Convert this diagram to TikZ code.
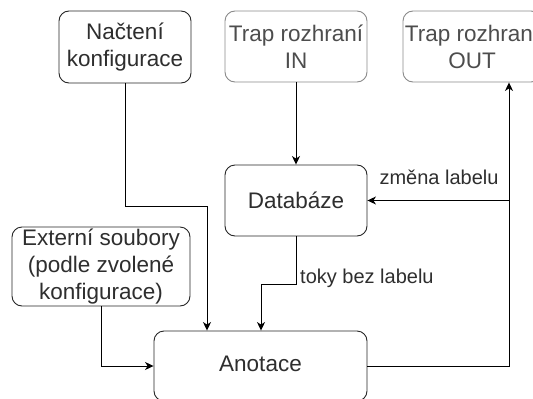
\documentclass[tikz,border=0pt]{standalone}
\usepackage{fontspec}
\setmainfont{Liberation Sans}
\usetikzlibrary{arrows.meta}
\definecolor{boxline}{HTML}{262626}
\definecolor{greyline}{HTML}{8A8A8A}
\definecolor{txt}{HTML}{2E2E2E}
\definecolor{greytxt}{HTML}{4D4D4D}
\tikzset{
  box/.style={draw=boxline, line width=0.9pt, rounded corners=10pt, fill=white,
    align=center, text=txt, inner sep=0pt,
    font=\fontsize{22.5}{27}\selectfont},
  greybox/.style={box, draw=greyline, text=greytxt},
  conn/.style={draw=black, line width=0.9pt},
  arr/.style={conn, -{Stealth[length=8.5pt,width=8pt,inset=2.5pt]}},
  lbl/.style={text=txt, inner sep=0pt, font=\fontsize{20}{24}\selectfont}
}
\begin{document}
\begin{tikzpicture}[x=1pt,y=-1pt]
\useasboundingbox (0,0) rectangle (533,399);
\clip (0,0) rectangle (533,399);

% process boxes
\node[box, minimum width=132pt, minimum height=72pt] (nacteni) at (125,47) {Načtení\\konfigurace};
\node[greybox, minimum width=142pt, minimum height=71pt] (trapin) at (296,46.5) {Trap rozhraní\\IN};
\node[greybox, minimum width=138pt, minimum height=71pt] (trapout) at (472,46.5) {Trap rozhraní\\OUT};
\node[box, minimum width=142pt, minimum height=71pt] (db) at (296,200.5) {Databáze};
\node[box, minimum width=178pt, minimum height=79pt] (ext) at (101,266.5) {Externí soubory\\(podle zvolené\\konfigurace)};
\node[box, minimum width=213pt, minimum height=70pt] (anot) at (260.5,366) {};
\node[text=txt, font=\fontsize{22.5}{27}\selectfont, inner sep=0pt] (anottxt) at (260.5,364) {Anotace};

% bend points
\coordinate (k1) at (207,206);
\coordinate (k2) at (261,284);
\coordinate (k3) at (509,366);

% connectors
\draw[arr] (nacteni.south) |- (k1) -- (k1 |- anot.north);
\draw[arr] (trapin.south) -- (db.north);
\draw[arr] (db.south) |- (k2) -- (k2 |- anot.north);
\draw[arr] (ext.south) |- (anot.west);
\draw[arr] (anot.east) -- (k3) -- (k3 |- trapout.south);
\draw[arr] (k3 |- db.east) -- (db.east);

% edge labels
\node[lbl, anchor=center] (lblchange) at (439,177) {změna labelu};
\node[lbl, anchor=base west] (lblflow) at (300,283) {toky bez labelu};
\end{tikzpicture}
\end{document}
